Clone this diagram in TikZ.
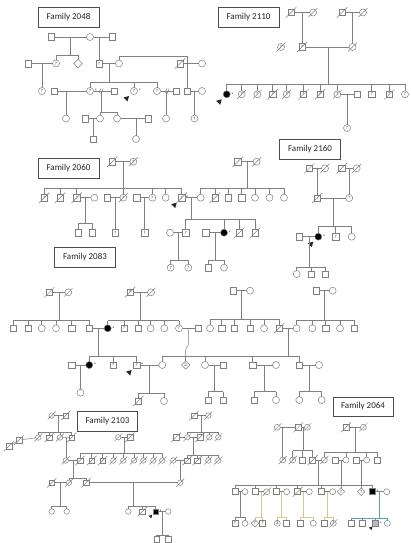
\documentclass[tikz,border=0pt]{standalone}
\usepackage{fontspec}
\setmainfont{Carlito}
\usetikzlibrary{shapes.geometric}
\definecolor{lc}{gray}{0.5}
\definecolor{ltan}{rgb}{0.86,0.78,0.55}
\definecolor{lteal}{rgb}{0.35,0.62,0.72}
\newcommand\qf{\fontsize{4.6}{4.6}\selectfont}
\newcommand\sib[6][]{\draw[ln,#1] (#2) -- (#2 |- 0,#3) (#4.north |- 0,#3) -- (#5.north |- 0,#3);
  \foreach \ch in {#6}{\draw[ln,#1] (\ch.north) -- (\ch.north |- 0,#3);}}
\newcommand\prob[2][1]{\fill[black!85,shift={(#2.center)},scale=#1] (-5,5) -- (-10.5,6.5) -- (-8.5,8.5) -- (-6.5,10.5) -- cycle;}
\newcommand\divm[2]{\draw[ln] (#1-2.2,#2+2.5) -- (#1-0.2,#2-2.5) (#1+0.2,#2+2.5) -- (#1+2.2,#2-2.5);}
\tikzset{
  ln/.style={draw=lc, line width=0.5pt},
  slash/.style={draw=lc, line width=0.5pt},
  sym/.style={draw=lc, line width=0.5pt, inner sep=0pt, outer sep=0pt, fill=white, font=\qf, text=black!80},
  sq/.style={sym, rectangle, minimum size=6.5pt},
  ci/.style={sym, circle, minimum size=7pt},
  di/.style={sym, diamond, minimum size=8.5pt},
  sm/.style={minimum size=5.5pt},
  md/.style={minimum size=6pt},
  aff/.style={fill=black},
  dec/.style={append after command={([shift={(-2,2)}]\tikzlastnode.south west) edge[slash] ([shift={(2,-2)}]\tikzlastnode.north east)}},
  ast/.style={label={[font=\fontsize{5}{5}\selectfont, inner sep=0pt, label distance=0.8pt, text=black]0:*}},
  fam/.style={draw=black!70, line width=0.7pt, minimum width=61pt, minimum height=20pt, font=\fontsize{9}{10}\selectfont, inner sep=0pt, text=black!85}
}
\begin{document}
\begin{tikzpicture}[x=1pt,y=-1pt]
\fill[white] (0,0) rectangle (411,543);
\useasboundingbox (0,0) rectangle (411,543);
% ================= Family 2048
\node[fam] (f1) at (68.5,17.5) {Family 2048};
\node[sq] (a1) at (51,37) {};
\node[ci] (a2) at (90,37) {};
\node[sq] (a3) at (112,37) {};
\draw[ln] (a1) -- (a2) (a2) -- (a3);
\coordinate (am1) at (70,37);
\coordinate (am2) at (99,37);
\node[sq] (a4) at (28,63.5) {};
\node[ci] (a5) at (56,63.5) {?};
\node[di] (a6) at (78,63.5) {};
\node[sq] (a7) at (99,63.5) {?};
\node[ci] (a8) at (119,63.5) {};
\node[sq,dec] (a9) at (180,63.5) {};
\node[ci] (a10) at (202,63.5) {};
\sib{am1}{55}{a5}{a6}{a5,a6}
\draw[ln] (am2) -- (a7);
\draw[ln] (a4) -- (a5) (a7) -- (a8) (a9) -- (a10);
\coordinate (am5) at (187,63.5);
\coordinate (ak) at (187,56);
\draw[ln] (a8.north) |- (ak) -- (am5);
\coordinate (am3) at (42,63.5);
\node[ci] (a11) at (42,91) {?};
\draw[ln] (am3) -- (a11);
\node[sq] (a12) at (54,91) {};
\node[ci,ast] (a13) at (90,91) {?};
\node[sq] (a14) at (114,91) {};
\node[ci,ast] (a15) at (134,91) {?};
\node[ci] (a16) at (157,91) {?};
\node[sq] (a17) at (176,91) {};
\node[sq] (a18) at (187,91) {};
\node[ci] (a19) at (202,91) {};
\coordinate (am4) at (109,63.5);
\sib{am4}{82}{a13}{a16}{a13,a15,a16}
\draw[ln] (am5) -- (a18);
\draw[ln] (a12) -- (a13) (a13) -- (a14) (a16) -- (a17) (a18) -- (a19);
\divm{101}{91}
\divm{167}{91}
\prob{a15}
\node[ci] (a20) at (66,118.5) {};
\node[sq] (a21) at (85,118.5) {};
\node[ci] (a22) at (100,118.5) {};
\node[ci] (a23) at (117,118.5) {};
\node[sq] (a24) at (148,118.5) {};
\node[ci] (a25) at (166,118.5) {};
\node[ci] (a26) at (194.5,118.5) {?};
\coordinate (am6) at (66,91);
\coordinate (am7) at (101,91);
\coordinate (am8) at (166,91);
\coordinate (am9) at (194.5,91);
\draw[ln] (am6) -- (a20) (am8) -- (a25) (am9) -- (a26);
\sib{am7}{112}{a22}{a23}{a22,a23}
\draw[ln] (a21) -- (a22) (a23) -- (a24);
\node[sq] (a27) at (93,139) {};
\node[ci] (a28) at (136,139) {};
\coordinate (am10) at (93,118.5);
\coordinate (am11) at (136,118.5);
\draw[ln] (am10) -- (a27) (am11) -- (a28);
% ================= Family 2110
\node[fam] (f2) at (248.5,17.5) {Family 2110};
\node[sq,dec] (b1) at (291,12.5) {};
\node[ci,dec] (b2) at (313,12.5) {};
\node[sq,dec] (b3) at (342,12.5) {};
\node[ci,dec] (b4) at (363,12.5) {};
\draw[ln] (b1) -- (b2) (b3) -- (b4);
\node[ci,dec] (b5) at (281,47) {?};
\node[sq,dec] (b6) at (302,47) {?};
\node[ci,dec] (b7) at (352.5,47) {};
\coordinate (bm1) at (302,12.5);
\coordinate (bm2) at (352.5,12.5);
\draw[ln] (bm1) -- (b6) (bm2) -- (b7) (b6) -- (b7);
\coordinate (bm3) at (328,47);
\node[ci,aff,ast] (b8) at (226.7,94.3) {};
\node[ci,dec] (b9) at (241.7,94.3) {?};
\node[ci,dec] (b10) at (257.3,94.3) {?};
\node[sq,dec] (b11) at (272.7,94.3) {?};
\node[ci,dec] (b12) at (286.7,94.3) {?};
\node[sq,dec] (b13) at (303.3,94.3) {?};
\node[sq,dec] (b14) at (320,94.3) {?};
\node[ci,dec] (b15) at (337.3,94.3) {?};
\node[sq] (b16) at (357.3,94.3) {};
\node[sq] (b17) at (371.7,94.3) {?};
\node[sq,dec] (b18) at (389.3,94.3) {?};
\node[ci] (b19) at (405,94.3) {?};
\sib{bm3}{84}{b8}{b19}{b8,b9,b10,b11,b12,b13,b14,b15,b17,b18,b19}
\draw[ln] (b15) -- (b16);
\coordinate (bm4) at (347,94.3);
\node[ci] (b20) at (347,128) {?};
\draw[ln] (bm4) -- (b20);
\prob{b8}
% ================= Family 2060
\node[fam] (f3) at (68.5,168.5) {Family 2060};
\node[sq,dec] (c1) at (112.3,161.7) {};
\node[ci,dec] (c2) at (133.3,161.7) {?};
\draw[ln] (c1) -- (c2);
\coordinate (cm1) at (123,161.7);
\node[sq,dec] (c3) at (44.3,197.7) {?};
\node[sq,dec] (c4) at (60,197.7) {};
\node[sq,dec] (c5) at (76.7,197.7) {?};
\node[ci] (c6) at (94.3,197.7) {};
\node[sq] (c7) at (107.3,197.7) {};
\node[ci,dec] (c8) at (123.3,197.7) {?};
\node[sq] (c9) at (136.7,197.7) {};
\node[ci] (c10) at (152.3,197.7) {?};
\node[ci] (c11) at (165.7,197.7) {};
\node[sq,dec,ast] (c12) at (181.7,197.7) {?};
\node[ci] (c13) at (200.7,197.7) {};
\sib{cm1}{188.3}{c3}{c12}{c3,c4,c5,c8,c10,c11,c12}
\draw[ln] (c5) -- (c6) (c7) -- (c8) (c9) -- (c10) (c12) -- (c13);
\prob{c12}
\node[sq,dec] (c14) at (237.7,161.7) {};
\node[ci,dec] (c15) at (256.7,161.7) {};
\draw[ln] (c14) -- (c15);
\coordinate (cm2) at (247.3,161.7);
\node[sq,dec] (c16) at (215,197.7) {};
\node[sq] (c17) at (228.3,197.7) {};
\node[sq] (c18) at (241.7,197.7) {};
\node[ci] (c19) at (255,197.7) {};
\node[ci] (c20) at (269.5,197.7) {};
\node[ci] (c21) at (284,197.7) {};
\sib{cm2}{188}{c13}{c21}{c13,c16,c17,c18,c19,c20,c21}
\node[sq] (c22) at (78.3,232.7) {};
\node[sq] (c23) at (92.3,232.7) {};
\coordinate (cm3) at (85.5,197.7);
\sib{cm3}{223.3}{c22}{c23}{c22,c23}
\node[sq] (c24) at (115.3,232.7) {?};
\node[sq] (c25) at (144.5,232.7) {?};
\coordinate (cm4) at (115.3,197.7);
\coordinate (cm5) at (144.5,197.7);
\draw[ln] (cm4) -- (c24) (cm5) -- (c25);
\coordinate (cm6) at (191.2,197.7);
\node[ci] (c27) at (170,232.7) {};
\node[sq] (c26) at (185.7,232.7) {?};
\node[sq] (c31) at (205.7,232.7) {};
\node[ci,aff,ast] (c28) at (224,232.7) {};
\node[sq,dec] (c29) at (239.3,232.7) {};
\node[sq,dec] (c30) at (255,232.7) {};
\sib{cm6}{219.3}{c26}{c30}{c26,c28,c29,c30}
\draw[ln] (c27) -- (c26) (c31) -- (c28);
\node[ci] (c32) at (170.7,267.7) {?};
\node[ci] (c33) at (188.3,267.7) {?};
\node[sq] (c34) at (208.3,267.7) {};
\node[ci] (c35) at (224,267.7) {};
\coordinate (cm7) at (178,232.7);
\coordinate (cm8) at (215,232.7);
\sib{cm7}{260}{c32}{c33}{c32,c33}
\sib{cm8}{260}{c34}{c35}{c34,c35}
% ================= Family 2160
\node[fam] (f4) at (310,149.5) {Family 2160};
\node[sq,dec] (d1) at (309.3,168.3) {};
\node[ci,dec] (d2) at (325,168.3) {};
\node[sq,dec] (d3) at (341.7,168.3) {};
\node[ci,dec] (d4) at (356.7,168.3) {};
\draw[ln] (d1) -- (d2) (d3) -- (d4);
\node[sq,dec] (d5) at (317.2,198) {};
\node[ci] (d6) at (349.2,198) {?};
\coordinate (dm1) at (317.2,168.3);
\coordinate (dm2) at (349.2,168.3);
\draw[ln] (dm1) -- (d5) (dm2) -- (d6) (d5) -- (d6);
\coordinate (dm3) at (333.5,198);
\node[sq] (d7) at (299.3,236.7) {};
\node[ci,aff,ast] (d8) at (318.3,236.7) {};
\node[sq] (d9) at (335.7,236.7) {?};
\node[ci] (d10) at (351.7,236.7) {};
\sib{dm3}{226}{d8}{d10}{d8,d9,d10}
\draw[ln] (d7) -- (d8);
\prob{d8}
\coordinate (dm4) at (309,236.7);
\node[ci] (d11) at (296.7,274) {};
\node[sq] (d12) at (311,274) {};
\node[sq] (d13) at (325,274) {};
\sib{dm4}{267.3}{d11}{d13}{d11,d12,d13}
% ================= Family 2083
\node[fam] (f5) at (85,257.5) {Family 2083};
\node[sq,dec] (e1) at (49.3,292.3) {};
\node[ci,dec] (e2) at (68.3,292.3) {};
\draw[ln] (e1) -- (e2);
\coordinate (em1) at (59,292.3);
\node[sq] (e3) at (13.3,328.3) {};
\node[sq] (e4) at (28.3,328.3) {};
\node[ci] (e5) at (41.7,328.3) {};
\node[ci] (e6) at (56,328.3) {};
\node[sq] (e7) at (71.7,328.3) {};
\node[sq] (e8) at (89.3,328.3) {};
\sib{em1}{320}{e3}{e8}{e3,e4,e5,e6,e7,e8}
\node[sq,dec] (e10) at (130,292.3) {?};
\node[ci,dec] (e11) at (151,292.3) {};
\draw[ln] (e10) -- (e11);
\coordinate (em2) at (140.5,292.3);
\node[ci,aff,ast] (e9) at (107.7,328.3) {};
\node[sq] (e12) at (124.3,328.3) {?};
\node[sq] (e13) at (138.3,328.3) {};
\node[ci] (e14) at (150.7,328.3) {};
\node[ci] (e15) at (164.3,328.3) {};
\node[ci] (e16) at (179,328.3) {?};
\node[sq] (e17) at (198,328.3) {};
\sib{em2}{320.7}{e9}{e16}{e9,e12,e13,e14,e15,e16}
\draw[ln] (e8) -- (e9) (e16) -- (e17);
\node[sq] (e18) at (233.3,290.7) {};
\node[ci] (e19) at (250,290.7) {};
\draw[ln] (e18) -- (e19);
\coordinate (em3) at (241.7,290.7);
\node[ci] (e20) at (210,328.3) {};
\node[sq] (e21) at (221.7,328.3) {};
\node[sq] (e22) at (234,328.3) {};
\node[sq] (e23) at (250,328.3) {};
\node[ci] (e24) at (264,328.3) {};
\node[sq,dec] (e25) at (279,328.3) {};
\sib{em3}{319.3}{e20}{e25}{e20,e21,e22,e23,e24,e25}
\node[sq] (e27) at (316,290.7) {};
\node[ci] (e28) at (332.7,290.7) {};
\draw[ln] (e27) -- (e28);
\coordinate (em4) at (324.3,290.7);
\node[ci] (e26) at (296.7,328.3) {};
\node[ci] (e29) at (312.3,328.3) {};
\node[sq] (e30) at (325.7,328.3) {};
\node[ci] (e31) at (340,328.3) {};
\node[sq] (e32) at (354,328.3) {};
\sib{em4}{320}{e26}{e32}{e26,e29,e30,e31,e32}
\draw[ln] (e25) -- (e26);
\coordinate (em5) at (98.5,328.3);
\node[sq] (e33) at (71.7,365) {};
\node[ci,aff,ast] (e34) at (89.3,365) {};
\node[sq] (e35) at (113.3,365) {?};
\node[sq,ast] (e36) at (136.7,365) {?};
\node[ci] (e37) at (162.3,365) {};
\sib{em5}{356}{e34}{e36}{e34,e35,e36}
\draw[ln] (e33) -- (e34) (e36) -- (e37);
\prob{e36}
\coordinate (em6) at (288,328.3);
\node[di,font=\fontsize{5}{5}\selectfont] (e38) at (185.7,365) {2};
\node[ci] (e39) at (205,365) {};
\node[sq] (e40) at (223.3,365) {};
\node[sq] (e41) at (252.7,365) {};
\node[ci] (e42) at (276,365) {};
\node[sq] (e43) at (299.3,365) {};
\node[ci] (e44) at (319,365) {};
\sib{em6}{356}{e37}{e43}{e37,e38,e39,e41,e43}
\draw[ln] (e39) -- (e40) (e41) -- (e42) (e43) -- (e44);
\coordinate (em7) at (188.5,328.3);
\coordinate (em8) at (185.7,356);
\draw[ln] (em7) -- (188.5,343) .. controls (188.5,347) and (185.7,346.5) .. (185.7,350.5) -- (em8);
\coordinate (em9) at (80.5,365);
\node[ci] (e45) at (80.5,392.7) {};
\draw[ln] (em9) -- (e45);
\coordinate (em10) at (149.5,365);
\node[sq,dec] (e46) at (138.3,401) {};
\node[ci] (e47) at (164,401) {};
\sib{em10}{393.3}{e46}{e47}{e46,e47}
\coordinate (em11) at (214.2,365);
\coordinate (em12) at (264.3,365);
\coordinate (em13) at (309.2,365);
\node[sq] (e48) at (208.3,400) {};
\node[sq] (e49) at (223.3,400) {};
\node[sq] (e50) at (254.3,400) {};
\node[ci] (e51) at (276,400) {};
\node[ci] (e52) at (299.3,400) {};
\node[ci] (e53) at (321.7,400) {};
\sib{em11}{391.7}{e48}{e49}{e48,e49}
\sib{em12}{391.7}{e50}{e51}{e50,e51}
\sib{em13}{391.7}{e52}{e53}{e52,e53}
% ================= Family 2103
\node[fam,minimum width=60pt] (f6) at (107.5,421) {Family 2103};
\node[ci,sm,dec] (g1) at (51.7,415.5) {};
\node[sq,sm,dec] (g2) at (65.7,415.5) {};
\draw[ln] (g1) -- (g2);
\coordinate (gm1) at (58.7,415.5);
\node[sq,sm,dec] (g3) at (9,446) {};
\node[sq,sm,dec] (g4) at (19,440) {};
\node[ci,sm,dec] (g5) at (38.3,437.5) {};
\node[sq,sm,dec] (g6) at (49.3,437.5) {};
\node[ci,sm,dec] (g7) at (60,437.5) {};
\node[sq,sm,dec] (g8) at (71.7,437.5) {};
\sib{gm1}{432.3}{g5}{g8}{g5,g6,g7,g8}
\draw[ln] (g3) -- (g4) (g4) -- (g5) (g7) -- (g8);
\node[ci,sm,dec] (g9) at (118.3,437.3) {};
\node[sq,sm,dec] (g10) at (130,437.3) {};
\draw[ln] (g9) -- (g10);
\coordinate (gm2) at (124.2,437.3);
\node[sq,sm,dec] (g11) at (194,415.5) {};
\node[ci,sm,dec] (g12) at (208.3,415.5) {};
\draw[ln] (g11) -- (g12);
\coordinate (gm3) at (201.2,415.5);
\node[sq,sm,dec] (g13) at (176,437.3) {};
\node[ci,sm,dec] (g14) at (187.3,437.3) {};
\node[sq,sm,dec] (g15) at (200,437.3) {};
\node[ci,sm,dec] (g16) at (209.3,437.3) {};
\node[ci,sm,dec] (g17) at (218.3,437.3) {};
\sib{gm3}{432.3}{g14}{g17}{g14,g16,g17}
\draw[ln] (g13) -- (g14) (g14) -- (g15);
\coordinate (gm4) at (193.6,437.3);
\coordinate (gm5) at (65.8,437.5);
\node[ci,sm,dec] (g18) at (65.8,460.5) {};
\node[sq,sm,dec] (g19) at (80,460.5) {};
\node[sq,sm,dec] (g20) at (91.7,460.5) {};
\node[sq,sm,dec] (g21) at (102.7,460.5) {};
\node[ci,sm,dec] (g22) at (113.3,460.5) {};
\node[ci,sm,dec] (g23) at (123.3,460.5) {};
\node[ci,sm,dec] (g24) at (134,460.5) {};
\node[ci,sm,dec] (g25) at (143.3,460.5) {};
\node[ci,sm,dec] (g26) at (153.3,460.5) {};
\node[ci,sm,dec] (g27) at (162.3,460.5) {};
\node[ci,sm,dec] (g28) at (173.3,460.5) {};
\node[sq,sm,dec] (g29) at (187.3,460.5) {};
\node[sq,sm,dec] (g30) at (197.3,460.5) {};
\node[ci,sm,dec] (g31) at (208.3,460.5) {};
\node[ci,sm,dec] (g32) at (218.3,460.5) {};
\draw[ln] (gm5) -- (g18);
\sib{gm2}{453.3}{g19}{g27}{g19,g20,g21,g22,g23,g24,g25,g26,g27}
\sib{gm4}{455}{g29}{g32}{g29,g30,g31,g32}
\draw[ln] (g18) -- (g19) (g28) -- (g29);
\coordinate (gm6) at (72.8,460.5);
\coordinate (gm7) at (180.3,460.5);
\node[sq,sm,dec] (g33) at (51.7,482.7) {};
\node[ci,sm,dec] (g34) at (69,482.7) {};
\node[sq,sm,dec] (g35) at (86,482.7) {};
\node[ci,sm,dec] (g36) at (180.3,482.7) {};
\sib{gm6}{477.8}{g34}{g35}{g34,g35}
\draw[ln] (gm7) -- (g36) (g33) -- (g34) (g35) -- (g36);
\coordinate (gm8) at (60.3,482.7);
\coordinate (gm9) at (133.3,482.7);
\node[ci,sm] (g37) at (51.7,511.5) {};
\node[ci,sm] (g38) at (66.7,511.5) {};
\sib{gm8}{506}{g37}{g38}{g37,g38}
\node[ci,sm] (g39) at (128.3,511.5) {};
\node[sq,sm,dec] (g40) at (142.3,511.5) {};
\node[sq,sm,aff,ast] (g41) at (155.5,511.5) {};
\node[ci,sm] (g42) at (168.3,511.5) {};
\sib{gm9}{506}{g39}{g41}{g39,g40,g41}
\draw[ln] (g41) -- (g42);
\prob[0.65]{g41}
\coordinate (gm10) at (162,511.5);
\node[sq,sm] (g43) at (156.7,539) {};
\node[sq,sm] (g44) at (168.3,539) {};
\sib{gm10}{535}{g43}{g44}{g43,g44}
% ================= Family 2064
\node[fam,minimum width=60pt,minimum height=19pt] (f7) at (363,406.5) {Family 2064};
\node[ci,md,dec] (h1) at (277.3,427.3) {};
\node[sq,md,dec] (h2) at (298.3,427.3) {};
\node[ci,md,dec] (h3) at (307.3,427.3) {};
\draw[ln] (h1) -- (h2) (h2) -- (h3);
\node[sq,md,dec] (h4) at (346,427.3) {};
\node[ci,md,dec] (h5) at (363.3,427.3) {};
\draw[ln] (h4) -- (h5);
\coordinate (hm0) at (282.7,427.3);
\coordinate (hm1) at (302.8,427.3);
\coordinate (hm2) at (355.5,427.3);
\node[ci,md,dec] (h6) at (282.7,460) {?};
\node[ci,md,dec] (h7) at (292.7,460) {?};
\node[sq,md] (h8) at (302.7,460) {};
\node[sq,md,dec] (h9) at (312.7,460) {};
\node[ci,md,dec] (h10) at (324.3,460) {};
\node[sq,md] (h11) at (335,460) {};
\node[ci,md] (h12) at (346,460) {};
\node[sq,md] (h13) at (356,460) {};
\node[ci,md] (h14) at (366.7,460) {};
\node[sq,md] (h15) at (377.3,460) {};
\draw[ln] (hm0) -- (h6);
\sib{hm1}{450.7}{h7}{h9}{h7,h8,h9}
\sib{hm2}{452.3}{h10}{h15}{h10,h12,h14,h15}
\draw[ln] (h9) -- (h10) (h11) -- (h12) (h13) -- (h14);
\coordinate (hm3) at (318.5,460);
\coordinate (hm4) at (340.9,460);
\coordinate (hm5) at (361.3,460);
\node[sq,md] (h16) at (235,491.7) {};
\node[ci,md] (h17) at (245,491.7) {};
\node[sq,md] (h18) at (255,491.7) {};
\node[ci,md,dec] (h19) at (266.7,491.7) {};
\node[sq,md] (h20) at (276,491.7) {};
\node[ci,md] (h21) at (286.7,491.7) {};
\node[sq,md,dec] (h22) at (297.7,491.7) {};
\node[ci,md] (h23) at (309.3,491.7) {};
\node[sq,md] (h24) at (321.7,491.7) {};
\node[ci,md] (h25) at (332.7,491.7) {};
\node[di,minimum size=7.5pt] (h26) at (340.9,491.7) {?};
\node[di,minimum size=7.5pt] (h27) at (361.3,491.7) {?};
\node[sq,md,aff,ast] (h28) at (372.3,491.7) {};
\node[ci,md] (h29) at (386.7,491.7) {};
\sib{hm3}{485}{h16}{h28}{h16,h18,h20,h22,h24,h28}
\draw[ln] (hm4) -- (h26) (hm5) -- (h27);
\draw[ln] (h16) -- (h17) (h18) -- (h19) (h20) -- (h21) (h22) -- (h23) (h24) -- (h25) (h28) -- (h29);
\coordinate (hm6) at (240,491.7);
\coordinate (hm7) at (260.8,491.7);
\coordinate (hm8) at (281.3,491.7);
\coordinate (hm9) at (303.5,491.7);
\coordinate (hm10) at (327.2,491.7);
\coordinate (hm11) at (379.5,491.7);
\node[sq,md] (h30) at (235,523.3) {?};
\node[ci,md] (h31) at (245,523.3) {};
\node[di,minimum size=7.5pt] (h32) at (255,523.3) {?};
\node[sq,md] (h33) at (262.7,523.3) {?};
\node[ci,md,font=\fontsize{5}{5}\selectfont] (h34) at (277.3,523.3) {2};
\node[sq,md] (h35) at (286.7,523.3) {};
\node[sq,md] (h36) at (300.7,523.3) {};
\node[ci,md] (h37) at (313.3,523.3) {};
\node[sq,md] (h38) at (324.3,523.3) {};
\node[ci,md,dec] (h39) at (333.3,523.3) {?};
\node[sq,md] (h40) at (351.7,523.3) {};
\node[sq,md] (h41) at (362.3,523.3) {};
\node[sq,md,fill=gray!55,ast] (h42) at (375.7,523.3) {};
\node[ci,md] (h43) at (387.3,523.3) {};
\sib{hm6}{517.3}{h30}{h31}{h30,h31}
\sib[draw=ltan]{hm7}{517.3}{h32}{h33}{h32,h33}
\sib[draw=ltan]{hm8}{517.3}{h34}{h35}{h34,h35}
\sib[draw=ltan]{hm9}{517.3}{h36}{h37}{h36,h37}
\sib[draw=ltan]{hm10}{517.3}{h38}{h39}{h38,h39}
\sib[draw=lteal]{hm11}{518}{h40}{h43}{h40,h41,h42,h43}
\prob[0.65]{h42}
\end{tikzpicture}
\end{document}
